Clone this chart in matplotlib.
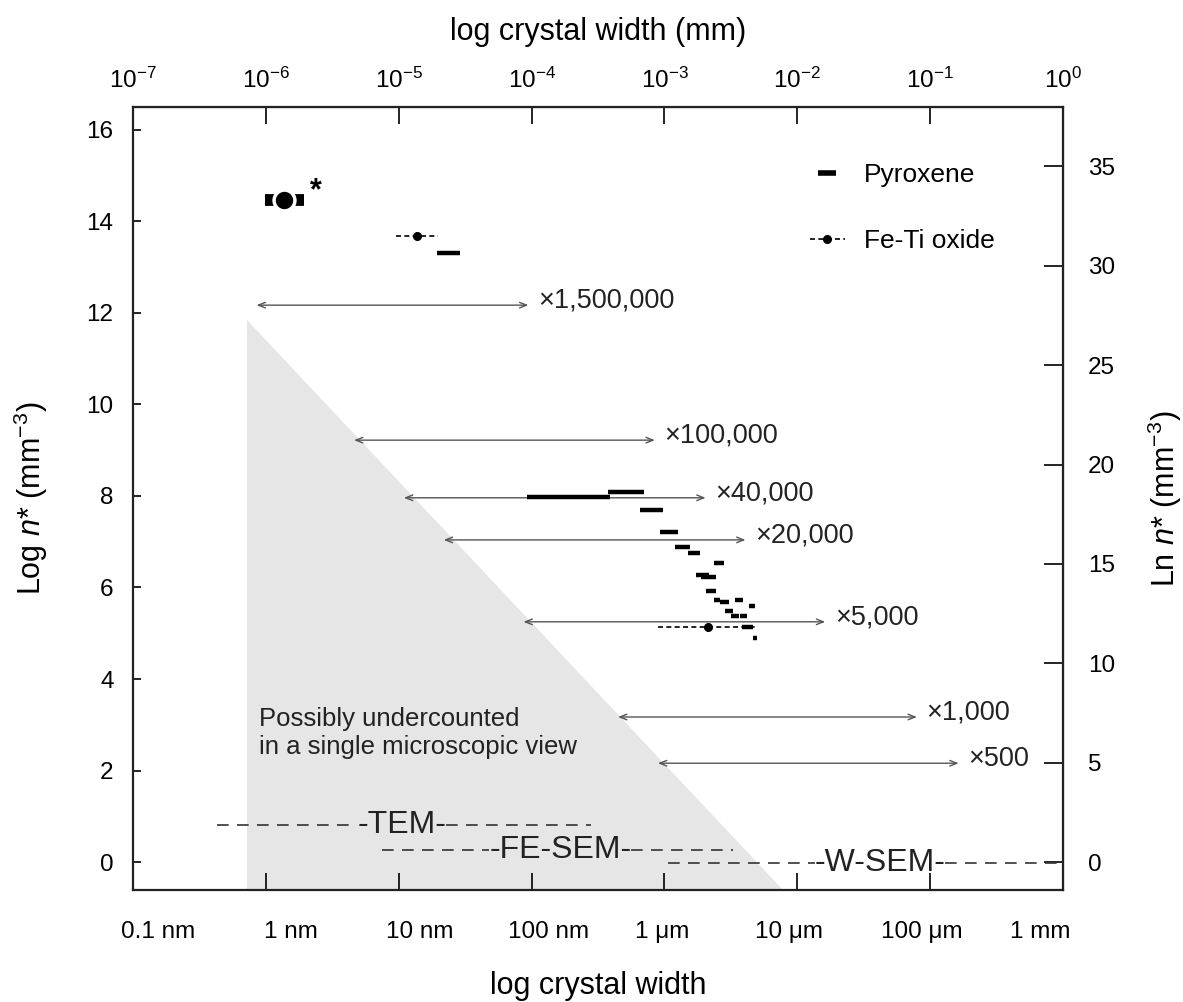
"""
Crystal size vs. number density (log n*) with microscope resolution ranges.
x in log10(width / mm), y in log10(n* / mm^-3).
"""
import numpy as np
import matplotlib
matplotlib.use("Agg")
import matplotlib.pyplot as plt
from matplotlib.lines import Line2D

plt.rcParams["font.family"] = ["Liberation Sans", "DejaVu Sans"]
plt.rcParams["mathtext.fontset"] = "custom"
plt.rcParams["mathtext.rm"] = "Liberation Sans"
plt.rcParams["mathtext.it"] = "Liberation Sans:italic"
plt.rcParams["mathtext.default"] = "regular"

# ── data ─────────────────────────────────────────────────────────────────────
# pyroxene size bins: start / end of width range (log mm) and log n*
pyx_x0 = [-4.714, -4.031, -3.424, -3.184, -3.034, -2.922, -2.825, -2.630,
          -2.765, -2.727, -2.690, -2.630, -2.585, -2.472, -2.367, -2.547,
          -2.502, -2.435, -2.420, -2.337]
pyx_x1 = [-4.541, -3.409, -3.154, -3.012, -2.899, -2.810, -2.735, -2.555,
          -2.667, -2.615, -2.615, -2.585, -2.517, -2.405, -2.315, -2.487,
          -2.442, -2.382, -2.337, -2.300]
pyx_y = [13.31, 7.98, 8.09, 7.69, 7.21, 6.89, 6.75, 6.54,
         6.27, 6.23, 5.92, 5.73, 5.68, 5.73, 5.60, 5.49,
         5.38, 5.38, 5.14, 4.90]

# Fe-Ti oxide: range and centre
fet_x0 = [-5.02, -3.05]
fet_x1 = [-4.706, -2.32]
fet_xc = [-4.864, -2.675]
fet_y = [13.68, 5.14]

# sample marked with *
star_x0, star_x1, star_xc, star_y = -6.01, -5.71, -5.86, 14.47

# field-of-view ranges per magnification
mag_labels = ["×1,500,000", "×100,000", "×40,000", "×20,000",
              "×5,000", "×1,000", "×500"]
mag_y = [12.17, 9.22, 7.96, 7.04, 5.25, 3.17, 2.16]
mag_x0 = [-6.07, -5.336, -4.961, -4.661, -4.061, -3.349, -3.049]
mag_x1 = [-4.024, -3.072, -2.690, -2.390, -1.790, -1.100, -0.786]

# microscope resolution ranges
scope_names = ["TEM", "FE-SEM", "W-SEM"]
scope_y = [0.82, 0.26, -0.01]
scope_x0 = [-6.37, -5.126, -2.975]
scope_x1 = [-3.552, -2.487, 0.0]
scope_xc = [-4.976, -3.784, -1.378]

# possibly-undercounted region
under_x = [-6.145, -6.145, -2.11]
under_y = [11.85, -0.61, -0.61]

bottom_labels = ["0.1 nm", "1 nm", "10 nm", "100 nm", "1 μm", "10 μm",
                 "100 μm", "1 mm"]
bottom_label_x = [-6.81, -5.81, -4.84, -3.87, -3.02, -2.06, -1.06, -0.17]

# ── figure ───────────────────────────────────────────────────────────────────
fig = plt.figure(figsize=(11.83, 10.02), dpi=100)
ax = fig.add_axes([0.1124, 0.1118, 0.7862, 0.7814])
ax.set_xlim(-7, 0)
ax.set_ylim(-0.61, 16.5)

ax.fill(under_x, under_y, color="#e6e6e6", lw=0, zorder=0)
ax.text(-6.048, 2.82, "Possibly undercounted\nin a single microscopic view",
        ha="left", va="center", fontsize=18.5, linespacing=1.2, color="#222")

# magnification arrows
for lab, y, x0, x1 in zip(mag_labels, mag_y, mag_x0, mag_x1):
    ax.annotate("", xy=(x1, y), xytext=(x0, y),
                arrowprops=dict(arrowstyle="<->,head_length=0.5,head_width=0.2",
                                color="#555555", lw=1.0,
                                shrinkA=0, shrinkB=0), zorder=2)
    ax.annotate(lab, xy=(x1, y), xytext=(7, 3), textcoords="offset points",
                ha="left", va="center", fontsize=19.5, color="#222")

# pyroxene bars
for x0, x1, y in zip(pyx_x0, pyx_x1, pyx_y):
    ax.plot([x0, x1], [y, y], color="black", lw=3.2,
            solid_capstyle="butt", zorder=4)

# Fe-Ti oxide
for x0, x1, xc, y in zip(fet_x0, fet_x1, fet_xc, fet_y):
    ax.plot([x0, x1], [y, y], color="black", lw=1.2, ls=(0, (3, 2)), zorder=5)
    ax.plot(xc, y, "o", color="black", ms=5.5, zorder=6)

# starred sample
ax.plot([star_x0, star_x1], [star_y, star_y], color="black", lw=8.5,
        solid_capstyle="butt", zorder=5)
ax.plot(star_xc, star_y, "o", color="black", ms=15, mec="white", mew=2.5,
        zorder=6)
ax.annotate("*", xy=(star_x1, star_y), xytext=(4, 6), textcoords="offset points",
            ha="left", va="center", fontsize=22, fontweight="bold")

# microscope ranges
scope_texts = []
for name, y, xc in zip(scope_names, scope_y, scope_xc):
    scope_texts.append(ax.text(xc, y, f"-{name}-", ha="center", va="center",
                               fontsize=23, color="#222", zorder=7))

# legend
handles = [
    Line2D([], [], ls="none", marker="_", ms=13, mew=4, color="black",
           label="Pyroxene"),
    Line2D([], [], color="black", lw=1.2, ls=(0, (3, 2)), marker="o", ms=5.5,
           label="Fe-Ti oxide"),
]
ax.legend(handles=handles, loc="upper left", bbox_to_anchor=(0.714, 0.945),
          frameon=False, borderpad=0, handlelength=1.3, handletextpad=0.75,
          labelspacing=1.6, fontsize=19)

# ── axes styling ─────────────────────────────────────────────────────────────
for sp in ax.spines.values():
    sp.set_linewidth(1.6)
    sp.set_color("#222")

ax.set_yticks(np.arange(0, 17, 2))
ax.tick_params(axis="y", direction="in", length=6, width=1.2, pad=14,
               labelsize=17.5)
ax.set_xticks(np.arange(-6, 0))
ax.set_xticklabels([])
ax.tick_params(axis="x", direction="in", length=12, width=1.2)
for lab, x in zip(bottom_labels, bottom_label_x):
    ax.text(x, -0.04, lab, transform=ax.get_xaxis_transform(),
            ha="center", va="top", fontsize=17.5)
ax.set_xlabel("log crystal width", fontsize=22, labelpad=55)
ax.set_ylabel(r"Log $\mathit{n}$* (mm$^{-3}$)", fontsize=22, labelpad=26)

ln10 = np.log(10)
secx = ax.secondary_xaxis("top")
secx.set_xticks(np.arange(-7, 1))
secx.set_xticklabels([rf"10$^{{{k}}}$" for k in range(-7, 1)])
secx.tick_params(direction="in", length=12, width=1.2, pad=10, labelsize=17.5)
secx.set_xlabel("log crystal width (mm)", fontsize=22, labelpad=20)

secy = ax.secondary_yaxis("right", functions=(lambda v: v * ln10,
                                              lambda v: v / ln10))
secy.set_yticks(np.arange(0, 36, 5))
secy.tick_params(direction="in", length=14, width=1.2, pad=18, labelsize=17.5)
secy.set_ylabel(r"Ln $\mathit{n}$* (mm$^{-3}$)", fontsize=22, labelpad=22)

# dashed microscope lines around their labels
fig.canvas.draw()
renderer = fig.canvas.get_renderer()
inv = ax.transData.inverted()
for t, y, x0, x1 in zip(scope_texts, scope_y, scope_x0, scope_x1):
    bb = t.get_window_extent(renderer).transformed(inv)
    ax.plot([x0, bb.x0], [y, y], color="#333", lw=1.2, ls=(0, (7, 5)), zorder=3)
    ax.plot([bb.x1, x1], [y, y], color="#333", lw=1.2, ls=(0, (7, 5)), zorder=3)

fig.savefig("out.png", dpi=100)
